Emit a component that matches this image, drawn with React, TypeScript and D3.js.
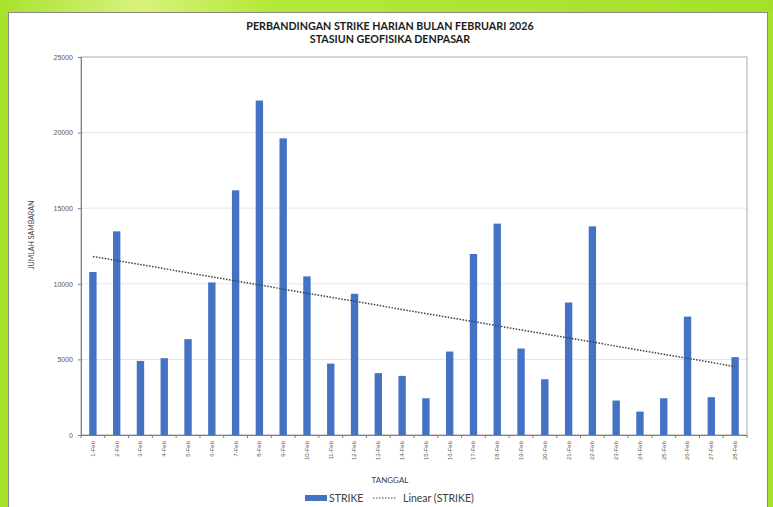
import React, { useEffect, useRef } from "react";
import * as d3 from "d3";

const dates = [
  "1-Feb", "2-Feb", "3-Feb", "4-Feb", "5-Feb", "6-Feb", "7-Feb", "8-Feb", "9-Feb", "10-Feb",
  "11-Feb", "12-Feb", "13-Feb", "14-Feb", "15-Feb", "16-Feb", "17-Feb", "18-Feb", "19-Feb", "20-Feb",
  "21-Feb", "22-Feb", "23-Feb", "24-Feb", "25-Feb", "26-Feb", "27-Feb", "28-Feb",
];
const strike = [
  10780, 13470, 4900, 5080, 6340, 10090, 16180, 22120, 19620, 10490,
  4720, 9340, 4090, 3910, 2430, 5520, 11970, 13980, 5720, 3690,
  8760, 13800, 2280, 1550, 2430, 7830, 2500, 5150,
];
const yTicks = [0, 5000, 10000, 15000, 20000, 25000];
const titleLines = ["PERBANDINGAN STRIKE HARIAN BULAN FEBRUARI 2026", "STASIUN GEOFISIKA DENPASAR"];

export default function App() {
  const ref = useRef<SVGSVGElement>(null);

  useEffect(() => {
    const svg = d3.select(ref.current);
    svg.selectAll("*").remove();

    const width = 773;
    const height = 507;
    const margin = { top: 57, right: 26, bottom: 72, left: 81 };
    const font = "Lato, 'Open Sans', sans-serif";

    svg.attr("width", width).attr("height", height).style("font-family", font);

    // green frame
    const defs = svg.append("defs");
    const grad = defs.append("linearGradient").attr("id", "topg").attr("x1", 0).attr("x2", 1);
    grad.append("stop").attr("offset", "0").attr("stop-color", "#a8e22c");
    grad.append("stop").attr("offset", "0.18").attr("stop-color", "#d8f27c");
    grad.append("stop").attr("offset", "0.35").attr("stop-color", "#b4e838");
    grad.append("stop").attr("offset", "1").attr("stop-color", "#a4e02a");
    svg.append("rect").attr("width", width).attr("height", height).attr("fill", "#a6e12b");
    svg.append("rect").attr("width", width).attr("height", 12).attr("fill", "url(#topg)");
    svg.append("rect")
      .attr("x", 8.5).attr("y", 12.5).attr("width", 759).attr("height", height)
      .attr("fill", "#fff").attr("stroke", "#8a8a8a").attr("stroke-width", 1);

    const x = d3.scaleBand()
      .domain(dates)
      .range([margin.left, width - margin.right])
      .paddingInner(0.69)
      .paddingOuter(0.345);

    const y = d3.scaleLinear()
      .domain([0, 25000])
      .range([height - margin.bottom, margin.top]);

    // title
    svg.append("g")
      .selectAll("text")
      .data(titleLines)
      .enter()
      .append("text")
      .attr("x", 390)
      .attr("y", (d, i) => 30 + i * 13)
      .attr("text-anchor", "middle")
      .style("font-size", "10.7px")
      .style("font-weight", "bold")
      .attr("fill", "#1a1a1a")
      .text(d => d);

    // gridlines
    svg.append("g")
      .selectAll("line")
      .data(yTicks.slice(1, -1))
      .enter()
      .append("line")
      .attr("x1", margin.left).attr("x2", width - margin.right)
      .attr("y1", d => y(d)).attr("y2", d => y(d))
      .attr("stroke", "#e6e6e6");

    // plot frame
    svg.append("rect")
      .attr("x", margin.left).attr("y", margin.top)
      .attr("width", width - margin.left - margin.right)
      .attr("height", height - margin.top - margin.bottom)
      .attr("fill", "none").attr("stroke", "#b8b8b8").attr("stroke-width", 1.2);

    // Y Axis
    const ya = svg.append("g")
      .attr("transform", `translate(${margin.left},0)`)
      .call(d3.axisLeft(y).tickValues(yTicks).tickSize(3).tickFormat(d3.format("d")));
    ya.select(".domain").attr("stroke", "#7f7f7f");
    ya.selectAll(".tick line").attr("stroke", "#7f7f7f");
    ya.selectAll("text").style("font-size", "7px").attr("fill", "#595959").attr("x", -8);

    // X Axis
    const step = x.step();
    const xa = svg.append("g")
      .attr("transform", `translate(0, ${height - margin.bottom})`)
      .call(d3.axisBottom(x).tickSize(0));
    xa.select(".domain").attr("stroke", "#7f7f7f");
    xa.selectAll("text")
      .style("font-size", "6px")
      .attr("fill", "#595959")
      .attr("transform", "rotate(-90)")
      .attr("x", -6)
      .attr("y", 0)
      .attr("dy", "0.32em")
      .style("text-anchor", "end");
    xa.append("g")
      .selectAll("line")
      .data(d3.range(dates.length + 1))
      .enter()
      .append("line")
      .attr("x1", i => margin.left + i * step)
      .attr("x2", i => margin.left + i * step)
      .attr("y1", 0).attr("y2", 3)
      .attr("stroke", "#7f7f7f");

    // Bars
    svg.append("g")
      .selectAll("rect")
      .data(strike)
      .enter()
      .append("rect")
      .attr("x", (d, i) => x(dates[i]))
      .attr("y", d => y(d))
      .attr("width", x.bandwidth())
      .attr("height", d => y(0) - y(d))
      .attr("fill", "#4472c4");

    // linear trend
    const n = strike.length;
    const mx = d3.mean(d3.range(1, n + 1));
    const my = d3.mean(strike);
    const sxy = d3.sum(strike, (v, i) => (i + 1 - mx) * (v - my));
    const sxx = d3.sum(d3.range(1, n + 1), t => (t - mx) * (t - mx));
    const slope = sxy / sxx;
    const trend = dates.map((d, i) => ({ d, v: my + slope * (i + 1 - mx) }));
    const line = d3.line()
      .x(p => x(p.d) + x.bandwidth() / 2)
      .y(p => y(p.v));
    svg.append("path")
      .datum(trend)
      .attr("d", line)
      .attr("fill", "none")
      .attr("stroke", "#404040")
      .attr("stroke-width", 1.5)
      .attr("stroke-dasharray", "1.5,1.5");

    // axis titles
    svg.append("text")
      .attr("x", 390).attr("y", 482.5)
      .attr("text-anchor", "middle")
      .style("font-size", "8px")
      .attr("fill", "#404040")
      .text("TANGGAL");
    svg.append("text")
      .attr("transform", "translate(34,235) rotate(-90)")
      .attr("text-anchor", "middle")
      .style("font-size", "7px")
      .attr("fill", "#404040")
      .text("JUMLAH SAMBARAN");

    // legend
    const lg = svg.append("g");
    lg.append("rect").attr("x", 305).attr("y", 495).attr("width", 22).attr("height", 6).attr("fill", "#4472c4");
    lg.append("text").attr("x", 329).attr("y", 501.7).style("font-size", "10.5px").attr("fill", "#404040").text("STRIKE");
    lg.append("line").attr("x1", 373).attr("x2", 396).attr("y1", 498).attr("y2", 498)
      .attr("stroke", "#404040").attr("stroke-width", 1.2).attr("stroke-dasharray", "1.5,1.5");
    lg.append("text").attr("x", 403).attr("y", 501.7).style("font-size", "10.5px").attr("fill", "#404040").text("Linear (STRIKE)");
  }, []);

  return <svg ref={ref} style={{ position: "absolute", left: 0, top: 0 }}></svg>;
}
